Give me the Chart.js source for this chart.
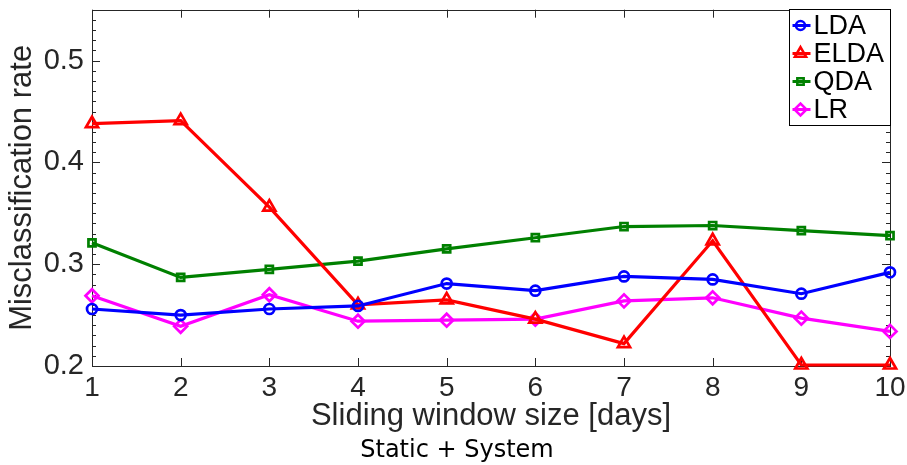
<!DOCTYPE html>
<html>
<head>
<meta charset="utf-8">
<script src="https://cdn.jsdelivr.net/npm/chart.js@4.4.1/dist/chart.umd.min.js"></script>
<style>
  html, body { margin: 0; padding: 0; background: #fff; }
  #wrap { width: 907px; height: 465px; position: relative; }
</style>
</head>
<body>
<div id="wrap"><canvas id="rateChart"></canvas></div>
<script>
// window size in days
var windowSizes = [1, 2, 3, 4, 5, 6, 7, 8, 9, 10];
var yTicks = [0.2, 0.3, 0.4, 0.5];

var ldaRate  = [0.256, 0.250, 0.256, 0.259, 0.281, 0.274, 0.288, 0.285, 0.271, 0.292];
var eldaRate = [0.438, 0.441, 0.356, 0.260, 0.265, 0.246, 0.222, 0.323, 0.201, 0.201];
var qdaRate  = [0.321, 0.287, 0.295, 0.303, 0.315, 0.326, 0.337, 0.338, 0.333, 0.328];
var lrRate   = [0.269, 0.239, 0.270, 0.244, 0.245, 0.246, 0.264, 0.267, 0.247, 0.234];

function pts(vals) {
    return vals.map(function (v, i) { return { x: windowSizes[i], y: v }; });
}

function series(label, vals, color, style, radius) {
    return {
        label: label,
        data: pts(vals),
        borderColor: color,
        backgroundColor: color,
        borderWidth: 3.2,
        pointStyle: style,
        pointRadius: radius,
        pointHoverRadius: radius,
        pointBorderWidth: 2.7,
        pointBorderColor: color,
        pointBackgroundColor: 'rgba(0,0,0,0)',
        clip: false,
        tension: 0
    };
}

var axisColor = '#262626';

// box, inward ticks and minor ticks like the original figure
var framePlugin = {
    id: 'frame',
    beforeDatasetsDraw: function (chart) {
        var ctx = chart.ctx, a = chart.chartArea;
        var xs = chart.scales.x, ys = chart.scales.y;
        ctx.save();
        ctx.strokeStyle = axisColor;
        ctx.lineWidth = 1;
        ctx.beginPath();
        windowSizes.forEach(function (v) {
            var px = Math.round(xs.getPixelForValue(v)) + 0.5;
            ctx.moveTo(px, a.bottom); ctx.lineTo(px, a.bottom - 8);
            ctx.moveTo(px, a.top); ctx.lineTo(px, a.top + 8);
        });
        for (var k = 20; k <= 55; k++) {
            var py = Math.round(ys.getPixelForValue(k / 100)) + 0.5;
            var len = (k % 10 === 0) ? 8 : 4;
            ctx.moveTo(a.left, py); ctx.lineTo(a.left + len, py);
            ctx.moveTo(a.right, py); ctx.lineTo(a.right - len, py);
        }
        ctx.stroke();
        ctx.strokeRect(Math.round(a.left) + 0.5, Math.round(a.top) + 0.5,
            Math.round(a.right - a.left), Math.round(a.bottom - a.top));
        ctx.restore();
    },
    afterDraw: function (chart) {
        var ctx = chart.ctx, a = chart.chartArea;
        ctx.save();
        // legend box in the top right corner
        var bw = 101, bh = 116;
        var bx = Math.round(a.right) - bw + 0.5, by = Math.round(a.top) - 1 + 0.5;
        ctx.fillStyle = '#fff';
        ctx.fillRect(bx, by, bw, bh);
        ctx.strokeStyle = '#000';
        ctx.lineWidth = 1;
        ctx.strokeRect(bx, by, bw, bh);
        ctx.font = '27px "Liberation Sans", Arial, sans-serif';
        ctx.textBaseline = 'middle';
        chart.data.datasets.forEach(function (ds, i) {
            var cy = by + 16 + i * 28;
            ctx.strokeStyle = ds.borderColor;
            ctx.lineWidth = 3;
            ctx.beginPath();
            ctx.moveTo(bx + 3, cy); ctx.lineTo(bx + 21, cy);
            ctx.stroke();
            ctx.lineWidth = 2.5;
            ctx.fillStyle = 'rgba(0,0,0,0)';
            Chart.helpers.drawPoint(ctx, {
                pointStyle: ds.pointStyle,
                radius: ds.pointRadius - 0.5,
                rotation: 0,
                borderWidth: 2.5
            }, bx + 11, cy);
            ctx.fillStyle = '#000';
            ctx.fillText(ds.label, bx + 24, cy + 1);
        });
        // caption under the x title
        ctx.fillStyle = '#000';
        ctx.font = '24px "DejaVu Sans", sans-serif';
        ctx.textAlign = 'center';
        ctx.fillText('Static + System', 457, 451);
        ctx.restore();
    }
};

var ctx = document.getElementById('rateChart').getContext('2d');
var myChart = new Chart(ctx, {
    type: 'line',
    data: {
        datasets: [
            series('LDA', ldaRate, '#0000ff', 'circle', 5),
            series('ELDA', eldaRate, '#ff0000', 'triangle', 7),
            series('QDA', qdaRate, '#008000', 'rect', 5),
            series('LR', lrRate, '#ff00ff', 'rectRot', 6.5)
        ]
    },
    options: {
        responsive: true,
        maintainAspectRatio: false,
        animation: false,
        layout: { padding: { top: 9, right: 17, left: 0, bottom: 29 } },
        plugins: {
            legend: { display: false },
            tooltip: { enabled: false }
        },
        scales: {
            x: {
                type: 'linear',
                min: 1,
                max: 10,
                afterFit: function (s) {
                    s.height = 70;
                    s.paddingLeft = 0; s.paddingRight = 0;
                },
                afterBuildTicks: function (s) {
                    s.ticks = windowSizes.map(function (v) { return { value: v }; });
                },
                grid: { display: false, drawTicks: false },
                border: { display: false },
                ticks: {
                    color: axisColor,
                    padding: 5,
                    maxRotation: 0,
                    font: { family: '"Liberation Sans", Arial, sans-serif', size: 28 }
                },
                title: {
                    display: true,
                    text: 'Sliding window size [days]',
                    color: axisColor,
                    padding: { top: 0, bottom: 4 },
                    font: { family: '"Liberation Sans", Arial, sans-serif', size: 31, lineHeight: 1 }
                }
            },
            y: {
                min: 0.2,
                max: 0.55,
                afterFit: function (s) {
                    s.width = 92;
                    s.paddingTop = 0; s.paddingBottom = 0;
                },
                afterBuildTicks: function (s) {
                    s.ticks = yTicks.map(function (v) { return { value: v }; });
                },
                grid: { display: false, drawTicks: false },
                border: { display: false },
                ticks: {
                    color: axisColor,
                    padding: 8,
                    callback: function (v) { return v.toFixed(1); },
                    font: { family: '"Liberation Sans", Arial, sans-serif', size: 29 }
                },
                title: {
                    display: true,
                    text: 'Misclassification rate',
                    color: axisColor,
                    padding: { top: 7, bottom: 0 },
                    font: { family: '"Liberation Sans", Arial, sans-serif', size: 31, lineHeight: 1 }
                }
            }
        }
    },
    plugins: [framePlugin]
});
</script>
</body>
</html>
